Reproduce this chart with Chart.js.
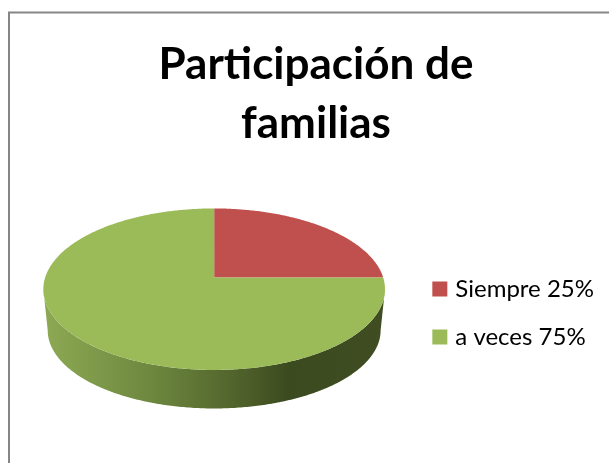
<!DOCTYPE html>
<html>
<head>
<meta charset="utf-8">
<style>html,body{margin:0;padding:0;background:#fff}#w{width:609px;height:463px}canvas{display:block}</style>
<script src="https://cdn.jsdelivr.net/npm/chart.js@4/dist/chart.umd.min.js"></script>
</head>
<body>
<div id="w"><canvas id="c" width="609" height="463"></canvas></div>
<script>
const categories = ["Siempre 25%", "a veces 75%"];
const values = [25, 75];
const colors = ["#C0504D", "#9BBB59"];
const titleLines = ["Participación de", "familias"];

const tilt = 0.4678, persp = 0.1453, shiftX = -6, shiftY = -35.5;
const wallR = 0.9746, wallA = 0.4527, wallDrop = 41.5;

function pt(el, t, rScale, aScale, drop) {
  const w = 1 - persp * Math.sin(t);
  return [el.x + shiftX + el.outerRadius * rScale * Math.cos(t) / w,
          el.y + shiftY + drop + el.outerRadius * aScale * Math.sin(t) / w];
}
function trace(ctx, el, a, b, rScale, aScale, drop, first) {
  const n = Math.max(2, Math.ceil(Math.abs(b - a) * 90));
  for (let i = 0; i <= n; i++) {
    const p = pt(el, a + (b - a) * i / n, rScale, aScale, drop);
    if (i === 0 && first) ctx.moveTo(p[0], p[1]); else ctx.lineTo(p[0], p[1]);
  }
}
const pie3d = {
  id: "pie3d",
  beforeDraw(chart) {
    const ctx = chart.ctx;
    ctx.save();
    ctx.fillStyle = "#fff";
    ctx.fillRect(0, 0, chart.width, chart.height);
    ctx.strokeStyle = "#868686";
    ctx.lineWidth = 2;
    ctx.strokeRect(9, 12.5, chart.width + 20, chart.height + 20);
    ctx.restore();
  },
  beforeDatasetDraw(chart, args) {
    const ctx = chart.ctx, arcs = args.meta.data;
    const te = Math.asin(persp);
    ctx.save();
    arcs.forEach(el => {
      const a = Math.max(el.startAngle, te), b = Math.min(el.endAngle, Math.PI - te);
      if (b <= a) return;
      const l = pt(el, Math.PI - te, 1, tilt, 0)[0], r = pt(el, te, 1, tilt, 0)[0];
      const g = ctx.createLinearGradient(l, 0, r, 0);
      g.addColorStop(0, "#8DA953");
      g.addColorStop(0.3, "#6F8A40");
      g.addColorStop(0.52, "#566A2F");
      g.addColorStop(0.72, "#3C4A1F");
      g.addColorStop(1, "#404D23");
      ctx.fillStyle = g;
      ctx.beginPath();
      trace(ctx, el, a, b, 1, tilt, 0, true);
      trace(ctx, el, b, a, wallR, wallA, wallDrop, false);
      ctx.closePath();
      ctx.fill();
    });
    arcs.forEach(el => {
      ctx.fillStyle = el.options.backgroundColor;
      ctx.beginPath();
      const c = pt(el, 0, 0, 0, 0);
      ctx.moveTo(c[0], c[1]);
      trace(ctx, el, el.startAngle, el.endAngle, 1, tilt, 0, false);
      ctx.closePath();
      ctx.fill();
    });
    ctx.restore();
    return false;
  }
};

new Chart(document.getElementById("c"), {
  type: "pie",
  data: {
    labels: categories,
    datasets: [{ data: values, backgroundColor: colors, borderWidth: 0 }]
  },
  options: {
    responsive: false,
    animation: false,
    radius: 169,
    layout: { padding: { left: 28, right: 5, top: 0, bottom: 5 } },
    plugins: {
      tooltip: { enabled: false },
      title: {
        display: true,
        text: titleLines,
        color: "#000",
        font: { family: "Lato", weight: "bold", size: 44, lineHeight: 1.34 },
        padding: { top: 35, bottom: 15 }
      },
      legend: {
        position: "right",
        fullSize: false,
        labels: {
          color: "#000",
          font: { family: "Lato", size: 24 },
          usePointStyle: true,
          pointStyle: "rect",
          boxWidth: 7,
          boxHeight: 15,
          padding: 24
        }
      }
    }
  },
  plugins: [pie3d]
});
</script>
</body>
</html>
